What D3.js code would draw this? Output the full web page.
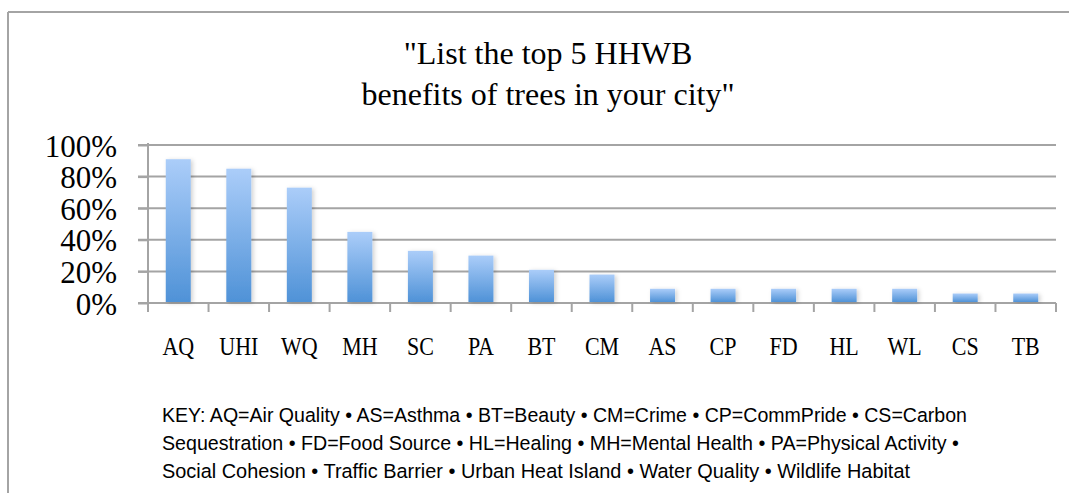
<!DOCTYPE html>
<html>
<head>
<meta charset="utf-8">
<script src="https://cdn.jsdelivr.net/npm/d3@7"></script>
<style>
  body { margin: 0; background: #fff; }
</style>
</head>
<body>
<script>
// chart data
const categories = ['AQ', 'UHI', 'WQ', 'MH', 'SC', 'PA', 'BT', 'CM', 'AS', 'CP', 'FD', 'HL', 'WL', 'CS', 'TB'];
const shares = [0.91, 0.85, 0.73, 0.45, 0.33, 0.30, 0.21, 0.18, 0.09, 0.09, 0.09, 0.09, 0.09, 0.06, 0.06];
const yTicks = [0, 0.2, 0.4, 0.6, 0.8, 1.0];
const titleLines = ['"List the top 5 HHWB', 'benefits of trees in your city"'];
const keyLines = [
  'KEY: AQ=Air Quality \u2022 AS=Asthma \u2022 BT=Beauty \u2022 CM=Crime \u2022 CP=CommPride \u2022 CS=Carbon',
  'Sequestration \u2022 FD=Food Source \u2022 HL=Healing \u2022 MH=Mental Health \u2022 PA=Physical Activity \u2022',
  'Social Cohesion \u2022 Traffic Barrier \u2022 Urban Heat Island \u2022 Water Quality \u2022 Wildlife Habitat'
];
const keyWidths = [805, 797, 748];

const W = 1069, H = 493;
const plot = { left: 148, right: 1056, top: 145, bottom: 303 };
const grey = '#a4a4a4';

const svg = d3.select('body').append('svg')
  .attr('width', W)
  .attr('height', H)
  .attr('xmlns', 'http://www.w3.org/2000/svg');

const defs = svg.append('defs');
const grad = defs.append('linearGradient')
  .attr('id', 'barGrad')
  .attr('x1', 0).attr('y1', 0).attr('x2', 0).attr('y2', 1);
grad.append('stop').attr('offset', '0%').attr('stop-color', '#abcdf9');
grad.append('stop').attr('offset', '100%').attr('stop-color', '#4f92d7');

const shadow = defs.append('filter').attr('id', 'shadow')
  .attr('x', '-20%').attr('y', '-20%').attr('width', '160%').attr('height', '140%');
shadow.append('feDropShadow')
  .attr('dx', 2).attr('dy', 1).attr('stdDeviation', 2)
  .attr('flood-color', '#000').attr('flood-opacity', 0.18);

// frame (only left and top edges are visible in the crop)
svg.append('line')
  .attr('x1', 8).attr('y1', 12).attr('x2', 8).attr('y2', H)
  .attr('stroke', grey).attr('stroke-width', 2);
svg.append('line')
  .attr('x1', 8).attr('y1', 12).attr('x2', W).attr('y2', 12)
  .attr('stroke', grey).attr('stroke-width', 2);

// title
svg.append('g').selectAll('text')
  .data(titleLines)
  .join('text')
  .attr('x', 548)
  .attr('y', (d, i) => 64 + i * 41)
  .attr('text-anchor', 'middle')
  .attr('font-family', 'Liberation Serif, Times New Roman, serif')
  .attr('font-size', 32)
  .attr('fill', '#000')
  .text(d => d);

// scales
const x = d3.scaleBand()
  .domain(categories)
  .range([plot.left, plot.right])
  .paddingInner(0.587)
  .paddingOuter(0.587 / 2);

const y = d3.scaleLinear()
  .domain([0, 1])
  .range([plot.bottom, plot.top]);

// gridlines
svg.append('g').selectAll('line')
  .data(yTicks)
  .join('line')
  .attr('x1', plot.left - 10)
  .attr('x2', plot.right)
  .attr('y1', d => y(d))
  .attr('y2', d => y(d))
  .attr('stroke', grey)
  .attr('stroke-width', 2);

// y axis
const yAxis = svg.append('g')
  .attr('transform', `translate(${plot.left},0)`)
  .call(d3.axisLeft(y).tickValues(yTicks).tickFormat(d3.format('.0%')).tickSize(10).tickPadding(21));
yAxis.select('.domain').remove();
yAxis.selectAll('.tick line').attr('stroke', grey).attr('stroke-width', 2);
yAxis.selectAll('.tick text')
  .attr('font-family', 'Liberation Serif, Times New Roman, serif')
  .attr('font-size', 31)
  .attr('fill', '#000')
  .attr('dy', '0.36em');
svg.append('line')
  .attr('x1', plot.left).attr('x2', plot.left)
  .attr('y1', plot.top - 2).attr('y2', plot.bottom + 9)
  .attr('stroke', grey).attr('stroke-width', 2);

// x axis tick marks at category boundaries
const step = x.step();
const boundaries = categories.map(c => x(c) - (step - x.bandwidth()) / 2).concat([plot.right]);
svg.append('g').selectAll('line')
  .data(boundaries)
  .join('line')
  .attr('x1', d => d).attr('x2', d => d)
  .attr('y1', plot.bottom).attr('y2', plot.bottom + 9)
  .attr('stroke', grey).attr('stroke-width', 2);

// bars
svg.append('g').selectAll('rect')
  .data(shares)
  .join('rect')
  .attr('x', (d, i) => x(categories[i]))
  .attr('y', d => y(d))
  .attr('width', x.bandwidth())
  .attr('height', d => y(0) - y(d) - 1)
  .attr('fill', 'url(#barGrad)')
  .attr('filter', 'url(#shadow)');

// category labels, slightly condensed like the original
svg.append('g').selectAll('text')
  .data(categories)
  .join('text')
  .attr('transform', d => `translate(${x(d) + x.bandwidth() / 2},355) scale(0.88,1)`)
  .attr('text-anchor', 'middle')
  .attr('font-family', 'Liberation Serif, Times New Roman, serif')
  .attr('font-size', 25)
  .attr('fill', '#000')
  .text(d => d);

// key
svg.append('g').selectAll('text')
  .data(keyLines)
  .join('text')
  .attr('x', 162)
  .attr('y', (d, i) => 422 + i * 28)
  .attr('font-family', 'Liberation Sans, Arial, sans-serif')
  .attr('font-size', 20.5)
  .attr('fill', '#000')
  .attr('textLength', (d, i) => keyWidths[i])
  .attr('lengthAdjust', 'spacingAndGlyphs')
  .text(d => d);
</script>
</body>
</html>
